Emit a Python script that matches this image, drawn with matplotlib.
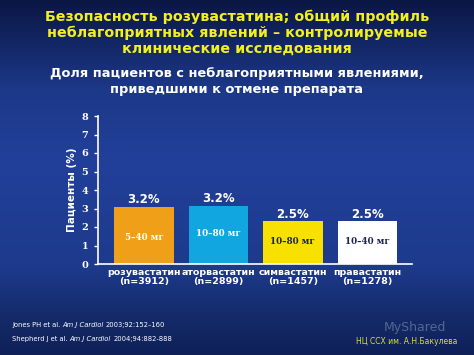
import numpy as np
import matplotlib
matplotlib.use('Agg')
import matplotlib.pyplot as plt
from matplotlib.colors import LinearSegmentedColormap

plt.rcParams['font.family'] = 'DejaVu Sans'

# data
drugs = ['розувастатин', 'аторвастатин', 'симвастатин', 'правастатин']
n_patients = ['(n=3912)', '(n=2899)', '(n=1457)', '(n=1278)']
bar_heights = [3.1, 3.15, 2.3, 2.3]
value_labels = ['3.2%', '3.2%', '2.5%', '2.5%']
doses = ['5–40 мг', '10–80 мг', '10–80 мг', '10–40 мг']
dose_label_y = [1.45, 1.65, 1.2, 1.2]
bar_colors = ['#f0a018', '#12a6e0', '#f8e000', '#ffffff']
dose_colors = ['#ffffff', '#ffffff', '#1a2450', '#1a2450']
yticks = [0, 1, 2, 3, 4, 5, 6, 7, 8]

fig = plt.figure(figsize=(4.74, 3.55), dpi=100)

# background gradient
bg = fig.add_axes([0, 0, 1, 1])
cmap = LinearSegmentedColormap.from_list('bg', [
    (0.0, '#0b1644'), (0.25, '#1c3888'), (0.45, '#22409a'),
    (0.75, '#1d3a8c'), (0.9, '#142a68'), (1.0, '#0f2058')])
grad = np.linspace(0, 1, 256).reshape(-1, 1)
bg.imshow(grad, aspect='auto', cmap=cmap, extent=[0, 1, 0, 1], origin='upper')
bg.set_axis_off()

# titles
title_lines = ['Безопасность розувастатина; общий профиль',
               'неблагоприятных явлений – контролируемые',
               'клинические исследования']
for yp, line in zip([17, 33, 49], title_lines):
    fig.text(0.5, 1 - yp / 355, line, ha='center', va='center',
             color='#f2f020', fontsize=10.3, fontweight='bold')
sub_lines = ['Доля пациентов с неблагоприятными явлениями,',
             'приведшими к отмене препарата']
for yp, line in zip([73, 89], sub_lines):
    fig.text(0.5, 1 - yp / 355, line, ha='center', va='center',
             color='white', fontsize=9.4, fontweight='bold')

# chart
ax = fig.add_axes([98 / 474, 1 - 264 / 355, 314 / 474, 148 / 355])
ax.patch.set_alpha(0)
x = np.arange(len(drugs))
ax.bar(x, bar_heights, width=0.8, color=bar_colors, zorder=2)
ax.set_xlim(-0.617, 3.6)
ax.set_ylim(0, 8)
for i in range(len(drugs)):
    ax.text(x[i], bar_heights[i] + 0.38, value_labels[i], ha='center', va='center',
            color='white', fontsize=8.5, fontweight='bold')
    ax.text(x[i], dose_label_y[i], doses[i], ha='center', va='center',
            color=dose_colors[i], fontsize=6.3, fontweight='bold', family='DejaVu Serif')

for s in ['top', 'right']:
    ax.spines[s].set_visible(False)
for s in ['left', 'bottom']:
    ax.spines[s].set_color('white')
    ax.spines[s].set_linewidth(1.2)
ax.set_yticks(yticks)
ax.set_yticklabels([str(t) for t in yticks], color='white', fontsize=7,
                   fontweight='bold', family='DejaVu Serif')
ax.tick_params(axis='y', colors='white', length=3, width=1, pad=4)
ax.set_xticks(x)
ax.set_xticklabels([d + '\n' + n for d, n in zip(drugs, n_patients)],
                   color='white', fontsize=6.8, fontweight='bold', linespacing=1.0)
ax.tick_params(axis='x', length=0, pad=3)
ax.set_ylabel('Пациенты (%)', color='white', fontsize=7.5, fontweight='bold', labelpad=3)

# footnotes
fig.canvas.draw()
renderer = fig.canvas.get_renderer()


def segments(xp, yp, parts):
    for txt, style in parts:
        t = fig.text(xp / 474, 1 - yp / 355, txt, ha='left', va='center',
                     color='white', fontsize=4.9, style=style)
        bb = t.get_window_extent(renderer)
        xp += bb.width


segments(12, 325, [('Jones PH et al. ', 'normal'), ('Am J Cardiol ', 'italic'),
                   ('2003;92:152–160', 'normal')])
segments(12, 339, [('Shepherd J et al. ', 'normal'), ('Am J Cardiol ', 'italic'),
                   ('2004;94:882-888', 'normal')])

fig.text(415 / 474, 1 - 327 / 355, 'MyShared', ha='center', va='center',
         color='#8090b0', fontsize=9, alpha=0.6)
fig.text(407 / 474, 1 - 341 / 355, 'НЦ ССХ им. А.Н.Бакулева', ha='center', va='center',
         color='#d8e030', fontsize=5.5)

fig.savefig('out.png', dpi=100)
